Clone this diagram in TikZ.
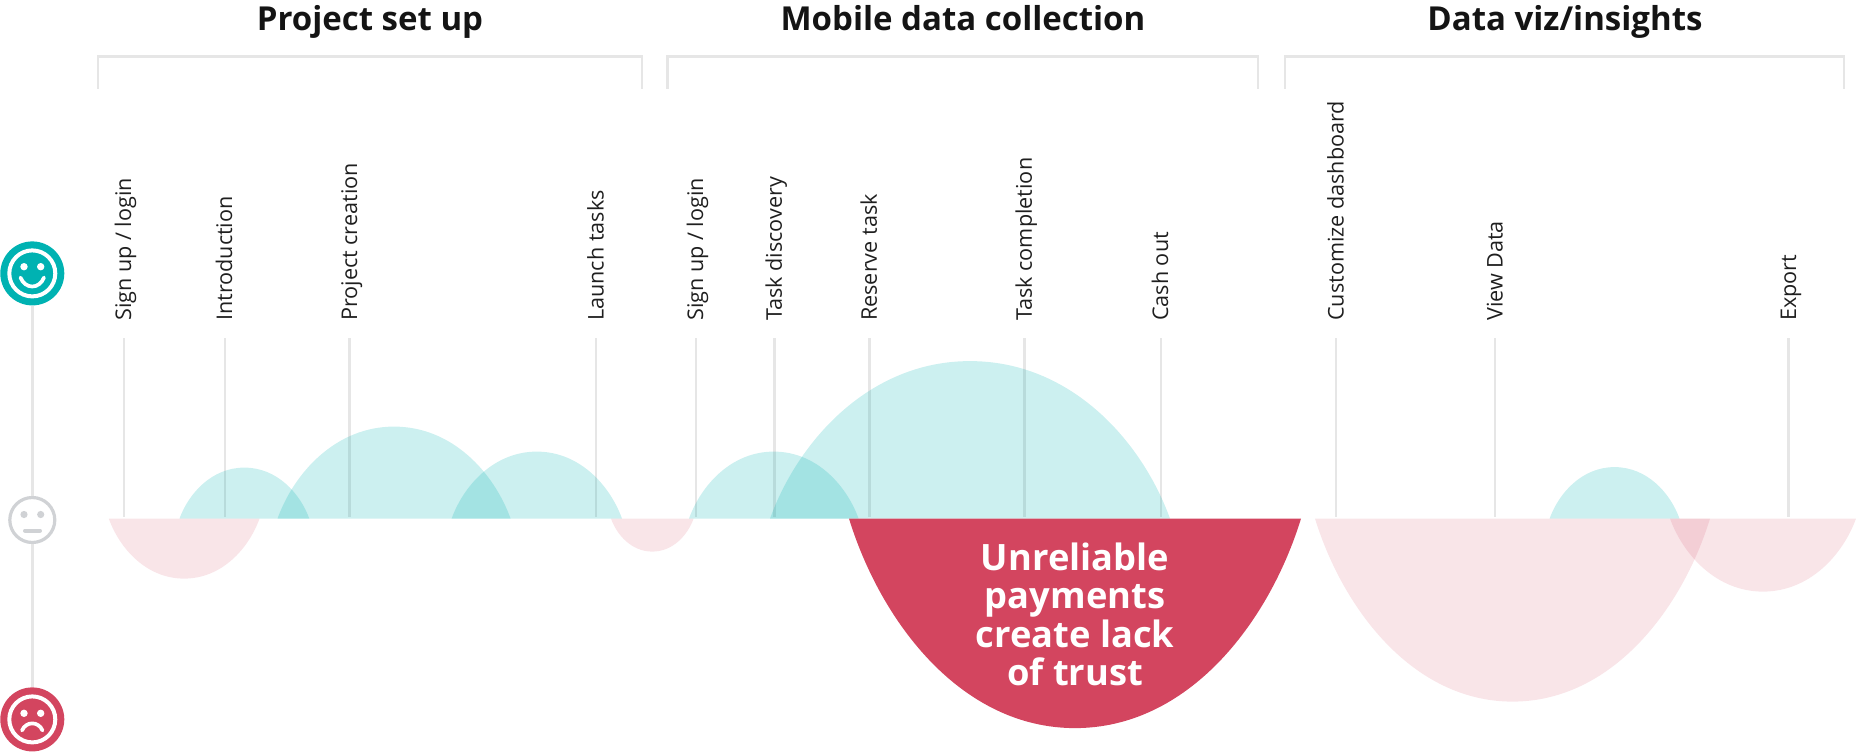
\documentclass[tikz,border=0pt]{standalone}
\usepackage{fontspec}
\setmainfont{Open Sans}
\definecolor{rulegrey}{HTML}{E6E6E6}
\definecolor{faceg}{HTML}{D0D2D5}
\definecolor{tealc}{HTML}{00B2B2}
\definecolor{redc}{HTML}{D3455F}
\tikzset{
  rulel/.style={draw=rulegrey,line width=2.4pt},
  title/.style={font=\fontsize{33}{33}\selectfont\bfseries,inner sep=0pt,anchor=base,text=black!92},
  steplabel/.style={font=\fontsize{21.6}{21.6}\selectfont,inner sep=0pt,rotate=90,anchor=base west,text=black!88},
  calltext/.style={font=\fontsize{36.3}{38.5}\selectfont\bfseries,text=white,inner sep=0pt,anchor=base},
  tealhump/.style={fill=tealc,fill opacity=0.2},
  pinkhump/.style={fill=redc,fill opacity=0.14},
  redhump/.style={fill=redc},
  facebig/.style={circle,minimum size=64pt,inner sep=0pt,fill=#1},
  faceneutral/.style={circle,minimum size=45pt,inner sep=0pt,draw=faceg,line width=3.2pt,fill=white},
}
% \humpshape{style}{x0}{x1}{signed height, px downward}
\newcommand{\humpshape}[4]{%
  \pgfmathsetmacro{\cx}{(#2+#3)/2}\pgfmathsetmacro{\rx}{(#3-#2)/2}%
  \fill[#1] (#2,518.6)
    .. controls ({\cx-0.857*\rx},{518.6+0.5*(#4)}) and ({\cx-0.5*\rx},{518.6+#4}) .. (\cx,{518.6+#4})
    .. controls ({\cx+0.5*\rx},{518.6+#4}) and ({\cx+0.857*\rx},{518.6+0.5*(#4)}) .. (#3,518.6) -- cycle;%
}
\begin{document}
\begin{tikzpicture}[x=1pt,y=-1pt]
\useasboundingbox (0,0) rectangle (1856,752);
% section titles
\node[title] (t1) at (370,30.7) {Project set up};
\node[title] (t2) at (963,30.7) {Mobile data collection};
\node[title] (t3) at (1565,30.7) {Data viz/insights};
% brackets
\foreach \n/\a/\b in {1/98/641.8,2/667.6/1257.8,3/1284.8/1844}{
  \coordinate (bl\n) at (\a,89); \coordinate (tl\n) at (\a,56.7);
  \coordinate (tr\n) at (\b,56.7); \coordinate (br\n) at (\b,89);
  \draw[rulel] (bl\n) -- (tl\n) -- (tr\n) -- (br\n);
}
% step ticks and labels
\foreach \n/\x/\txt in {1/123.7/{Sign up / login},2/224.7/Introduction,3/349.5/Project creation,4/596/Launch tasks,
  5/695.7/{Sign up / login},6/774.3/Task discovery,7/869.3/Reserve task,8/1024.3/Task completion,9/1160.7/Cash out,
  10/1336.2/Customize dashboard,11/1495/View Data,12/1788.5/Export}{
  \coordinate (tick\n) at (\x,338);
  \coordinate (foot\n) at (\x,517.3);
  \draw[rulel] (tick\n) -- (foot\n);
  \node[steplabel] (lab\n) at (\x+7.5,321) {\txt};
}
% humps
\humpshape{tealhump}{179.5}{309.3}{-51}
\humpshape{tealhump}{277.5}{510.6}{-92}
\humpshape{tealhump}{451.6}{622}{-67}
\humpshape{tealhump}{689}{858.6}{-67}
\humpshape{tealhump}{770}{1170}{-157.5}
\humpshape{tealhump}{1549.6}{1679.5}{-51.5}
\humpshape{pinkhump}{108.8}{259.5}{60}
\humpshape{pinkhump}{611}{693.6}{33}
\humpshape{pinkhump}{1315}{1710}{183}
\humpshape{pinkhump}{1670}{1856}{73}
\humpshape{redhump}{849}{1301}{209.5}
% callout
\node[calltext] (call1) at (1075,570) {Unreliable};
\node[calltext] (call2) at (1075,608.5) {payments};
\node[calltext] (call3) at (1075,647) {create lack};
\node[calltext] (call4) at (1075,685.5) {of trust};
% scale faces
\node[facebig=tealc] (happy) at (32.3,273.4) {};
\node[faceneutral] (neutral) at (32.3,520) {};
\node[facebig=redc] (sad) at (32.3,719.4) {};
\draw[rulel] (happy) -- (neutral);
\draw[rulel] (neutral) -- (sad);
% happy face
\draw[white,line width=4pt] (happy) circle (23);
\fill[white] (24,266.7) circle (3.7) (40.7,266.7) circle (3.7);
\draw[white,line width=3.7pt,line cap=round] (20.5,277.5) .. controls (25,289.5) and (39.5,289.5) .. (44,277.5);
% neutral face
\fill[faceg] (24,514.5) circle (3.6) (40.7,514.5) circle (3.6);
\draw[faceg,line width=4pt,line cap=round] (25,530.5) -- (40,530.5);
% sad face
\draw[white,line width=4pt] (sad) circle (23);
\fill[white] (24,713.3) circle (3.7) (40.7,713.3) circle (3.7);
\draw[white,line width=3.7pt,line cap=round] (22,730.5) .. controls (26,721) and (38.5,721) .. (42.5,730.5);
\end{tikzpicture}
\end{document}
